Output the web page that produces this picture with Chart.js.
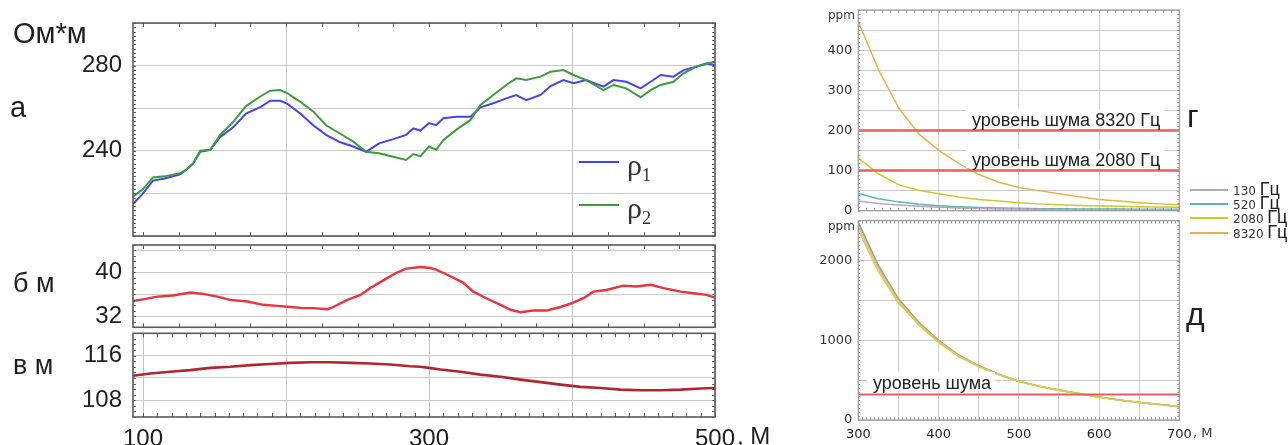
<!DOCTYPE html>
<html>
<head>
<meta charset="utf-8">
<script src="https://cdn.jsdelivr.net/npm/chart.js@4.4.1/dist/chart.umd.min.js"></script>
<style>
  body { margin: 0; background: #fff; width: 1288px; height: 445px; overflow: hidden; position: relative;
         font-family: "Liberation Sans", Arial, sans-serif; color: #1e1e1e; }
  canvas { position: absolute; }
  .t { position: absolute; white-space: nowrap; line-height: 1; }
  .ln { position: absolute; height: 2px; }
  .rho { font-family: "Liberation Serif", serif; font-size: 30px; color: #333; }
  .rho sub { font-size: 18px; vertical-align: -6px; }
  .lg { font-family: "DejaVu Sans", sans-serif; font-size: 12px; color: #333; }
  .lg b { font-family: "Liberation Sans", Arial, sans-serif; font-weight: normal; font-size: 18px; color: #222; }
  .noise { background: #fff; font-size: 18px; line-height: 15px; color: #222; padding: 4px 4px 0 6px; }
</style>
</head>
<body>
<canvas id="cA" style="left:0px;top:0px" width="740" height="245"></canvas>
<canvas id="cB" style="left:0px;top:240px" width="740" height="92"></canvas>
<canvas id="cC" style="left:0px;top:330px" width="740" height="115"></canvas>
<canvas id="cG" style="left:780px;top:0px" width="508" height="215"></canvas>
<canvas id="cD" style="left:780px;top:215px" width="508" height="230"></canvas>

<div class="t" style="left:13px;top:19px;font-size:29px">Ом*м</div>
<div class="t" style="left:10px;top:93px;font-size:29px">а</div>
<div class="t" style="left:13px;top:270px;font-size:27px">б м</div>
<div class="t" style="left:13px;top:352px;font-size:27px">в м</div>
<div class="t" style="left:737px;top:424px;font-size:24px">, М</div>

<div class="ln" style="left:579px;top:161px;width:40px;background:#4444ee"></div>
<div class="t rho" style="left:627px;top:150px">ρ<sub>1</sub></div>
<div class="ln" style="left:579px;top:204px;width:40px;background:#3d9a3d"></div>
<div class="t rho" style="left:627px;top:193px">ρ<sub>2</sub></div>

<div class="t noise" style="left:966px;top:109px">уровень шума 8320 Гц</div>
<div class="t noise" style="left:966px;top:149px">уровень шума 2080 Гц</div>
<div class="t noise" style="left:867px;top:372px">уровень шума</div>
<div class="t" style="left:1187px;top:100px;font-size:32px">г</div>
<div class="t" style="left:1186px;top:298px;font-size:32px">д</div>
<div class="t lg" style="left:828px;top:9px">ppm</div>
<div class="t lg" style="left:828px;top:220px">ppm</div>
<div class="t lg" style="left:1193px;top:426px;font-size:13px">, М</div>

<div class="ln" style="left:1190px;top:189px;width:38px;background:#b4a6bc"></div>
<div class="t lg" style="left:1233px;top:180px">130 <b>Гц</b></div>
<div class="ln" style="left:1190px;top:203px;width:38px;background:#5fb3ad"></div>
<div class="t lg" style="left:1233px;top:194px">520 <b>Гц</b></div>
<div class="ln" style="left:1190px;top:217px;width:38px;background:#c9c92c"></div>
<div class="t lg" style="left:1233px;top:208px">2080 <b>Гц</b></div>
<div class="ln" style="left:1190px;top:232px;width:38px;background:#eab04a"></div>
<div class="t lg" style="left:1233px;top:223px">8320 <b>Гц</b></div>

<script>
// --- panel а: apparent resistivity along the profile
const distRho = [93, 100, 107, 115, 126, 130, 135, 140, 147, 154, 163, 172, 182, 189, 196, 201, 210, 219, 228, 238,
  247, 256, 265, 275, 284, 289, 294, 300, 305, 310, 319, 329, 336, 345, 354, 361, 368, 378, 385, 394,
  401, 410, 422, 429, 438, 448, 455, 462, 471, 478, 487, 494, 500];
const rho1 = [215, 220, 226, 227, 229, 231, 234, 239.5, 240.5, 246.5, 251, 257.5, 260.5, 263.5, 263.5, 262, 257.5, 252, 247.5, 244,
  242, 239.5, 243.5, 245.5, 247.5, 250.5, 249.5, 253, 252, 255.3, 256, 256, 260.4, 262.3, 264.6, 266.2, 263.8, 266.2, 270.4, 273.2,
  271.7, 273.2, 270.1, 273.2, 272.4, 269.3, 272.4, 275.6, 274.8, 277.9, 279.5, 281, 280.3];
const rho2 = [218.5, 222, 227.5, 228, 229.5, 231, 234, 240, 240.5, 247.5, 253.5, 261, 265.5, 268.2, 268.5, 267, 263, 258.5, 252, 248,
  244.3, 239.5, 238.8, 237.2, 235.7, 238.5, 237.5, 242, 240.5, 245, 249.8, 254.5, 261.5, 266.2, 270.9, 274, 273.2, 274.8, 277.1, 277.9,
  275.6, 273.2, 268.5, 270.9, 269.3, 265.1, 268.5, 270.9, 272.4, 276.4, 279.5, 281, 281.7];

// --- panel б: depth, m
const distDepth = [91, 100, 110, 121, 133, 142, 152, 161, 173, 184, 194, 203, 212, 219, 229, 233, 243, 252, 259, 268,
  277, 284, 294, 301, 305, 315, 324, 331, 340, 350, 357, 364, 373, 382, 392, 400, 408, 415, 424, 436,
  445, 455, 464, 476, 485, 494, 500];
const depth = [34.7, 35.1, 35.6, 35.8, 36.35, 36.1, 35.6, 35.0, 34.7, 34.1, 33.9, 33.7, 33.5, 33.5, 33.3, 33.7, 35.0, 35.9, 37.15, 38.55,
  39.9, 40.7, 41.0, 40.8, 40.5, 39.3, 38.1, 36.5, 35.3, 34.1, 33.2, 32.75, 33.05, 33.05, 33.7, 34.4, 35.3, 36.5, 36.8, 37.6,
  37.45, 37.75, 37.15, 36.5, 36.2, 35.9, 35.4];

// --- panel в: elevation, m
const distElev = [93, 105, 119, 133, 147, 161, 175, 189, 203, 217, 231, 245, 259, 273, 287, 294, 300, 308, 322, 336,
  350, 364, 378, 392, 406, 420, 434, 448, 462, 476, 490, 500];
const elev = [112.4, 112.8, 113.1, 113.4, 113.8, 114.0, 114.3, 114.5, 114.7, 114.8, 114.8, 114.7, 114.6, 114.4, 114.1, 114.0, 113.8, 113.5, 113.1, 112.6,
  112.2, 111.7, 111.25, 110.8, 110.4, 110.2, 109.9, 109.8, 109.8, 109.9, 110.1, 110.2];

// --- panels г, д: signal vs offset
const distFreq = [300, 325, 350, 375, 400, 425, 450, 475, 500, 525, 550, 575, 600, 625, 650, 675, 700];
const g130 = [24, 18, 14, 11, 8.5, 7, 5.5, 4.5, 4, 3.5, 3, 2.5, 2.2, 2, 1.8, 1.6, 1.5];
const g520 = [43, 30, 22, 16, 12.5, 10, 8, 7, 6, 5, 4.8, 4.5, 4, 4, 3.8, 3.6, 3.5];
const g2080 = [131, 92, 65, 51, 42, 34, 28, 24, 20, 17, 15, 13, 12, 11, 10, 9, 8.5];
const g8320 = [471, 352, 257, 192, 151, 118, 90, 71, 58, 50, 42, 35, 28, 24, 20, 17, 15];
const d130 = [2480, 1940, 1520, 1230, 1000, 815, 680, 575, 487, 425, 375, 333, 288, 252, 222, 196, 168];
const d520 = [2470, 1932, 1515, 1226, 997, 812, 678, 574, 486, 424, 374, 332, 287, 251, 221, 195, 167];
const d2080 = [2380, 1860, 1470, 1195, 970, 795, 667, 568, 483, 422, 373, 331, 286, 250, 220, 195, 166];
const d8320 = [2430, 1900, 1495, 1212, 985, 805, 673, 571, 485, 423, 374, 332, 286, 250, 221, 195, 167];
const noiseG = [200, 100];   // 8320 Hz, 2080 Hz
const noiseD = 320;

const pts = (xs, ys) => xs.map((x, i) => ({ x, y: ys[i] }));
const flat = (y) => [{ x: 300, y }, { x: 700, y }];

// border + small inward ticks, placed through the chart scales
const framePlugin = {
  id: "frame",
  afterDraw(chart) {
    const o = chart.options.plugins.frame;
    const { ctx, chartArea: a, scales } = chart;
    const xs = scales.x, ys = scales.y;
    ctx.save();
    ctx.strokeStyle = o.color;
    ctx.lineWidth = 1;
    ctx.beginPath();
    for (let v = Math.ceil(xs.min / o.xStep) * o.xStep; v <= xs.max + 1e-6; v += o.xStep) {
      const p = Math.round(xs.getPixelForValue(v)) + 0.5;
      ctx.moveTo(p, a.bottom); ctx.lineTo(p, a.bottom - o.xLen);
      ctx.moveTo(p, a.top); ctx.lineTo(p, a.top + o.xLen);
    }
    for (let v = Math.ceil(ys.min / o.yStep) * o.yStep; v <= ys.max + 1e-6; v += o.yStep) {
      const p = Math.round(ys.getPixelForValue(v)) + 0.5;
      ctx.moveTo(a.left, p); ctx.lineTo(a.left + o.yLen, p);
      ctx.moveTo(a.right, p); ctx.lineTo(a.right - o.yLen, p);
    }
    ctx.stroke();
    ctx.lineWidth = o.width;
    ctx.strokeRect(a.left, a.top, a.right - a.left, a.bottom - a.top);
    ctx.restore();
  },
};

const leftFont = { family: "'Liberation Sans', Arial, sans-serif", size: 24 };
const rightFont = { family: "'DejaVu Sans', sans-serif", size: 13 };

function lineSet(data, color, width) {
  return { data, borderColor: color, borderWidth: width, pointRadius: 0, tension: 0, fill: false };
}

// keep the plot box exactly where the layout padding puts it
function noMargins(s) {
  s.paddingTop = 0; s.paddingBottom = 0; s.paddingLeft = 0; s.paddingRight = 0;
}

// ticks on round multiples of the step, axis keeps its own min/max
function roundTicks(ax) {
  return (s) => {
    s.min = ax.min;
    s.max = ax.max;
    const t = [];
    for (let v = Math.ceil(ax.min / ax.step - 1e-9) * ax.step; v <= ax.max + 1e-9; v += ax.step) t.push({ value: v });
    s.ticks = t;
  };
}

function makeChart(id, cfg) {
  return new Chart(document.getElementById(id), {
    type: "line",
    data: { datasets: cfg.datasets },
    plugins: [framePlugin],
    options: {
      responsive: false,
      animation: false,
      devicePixelRatio: 1,
      layout: { padding: cfg.padding },
      plugins: { legend: { display: false }, tooltip: { enabled: false }, frame: cfg.frame },
      scales: {
        x: {
          type: "linear",
          min: cfg.x.min, max: cfg.x.max,
          border: { display: false },
          grid: { drawTicks: false, color: cfg.x.gridColor, lineWidth: 1 },
          ticks: {
            display: !!cfg.x.labels, autoSkip: false, maxRotation: 0,
            padding: cfg.x.pad || 0, font: cfg.x.font, color: "#1e1e1e",
            callback: cfg.x.labels || (() => ""),
          },
          afterBuildTicks: roundTicks(cfg.x),
          afterFit: (s) => { s.height = cfg.x.height; noMargins(s); },
        },
        y: {
          type: "linear",
          min: cfg.y.min, max: cfg.y.max,
          border: { display: false },
          grid: { drawTicks: false, color: "#c9c9c9", lineWidth: 1 },
          ticks: {
            autoSkip: false,
            padding: cfg.y.pad, font: cfg.y.font, color: cfg.y.color || "#1e1e1e",
            callback: cfg.y.labels,
          },
          afterBuildTicks: roundTicks(cfg.y),
          afterFit: (s) => { s.width = cfg.y.width; noMargins(s); },
        },
      },
    },
  });
}

const every200 = (c) => (c.tick && c.tick.value % 200 === 0 ? "#c4c4c4" : "rgba(0,0,0,0)");
const leftFrame = { color: "#5a5a5a", width: 1.6, xStep: 25, xLen: 4 };

makeChart("cA", {
  datasets: [lineSet(pts(distRho, rho2), "#3d9a3d", 2), lineSet(pts(distRho, rho1), "#4444ee", 2)],
  padding: { left: 0, right: 25, top: 23, bottom: 9 },
  frame: { ...leftFrame, yStep: 2, yLen: 3 },
  x: { min: 93, max: 500, step: 100, gridColor: every200, height: 0 },
  y: { min: 200, max: 300, step: 20, width: 133, pad: 11, font: leftFont,
       labels: (v) => (v === 240 || v === 280 ? String(v) : "") },
});

makeChart("cB", {
  datasets: [lineSet(pts(distDepth, depth), "#e8343e", 2.4)],
  padding: { left: 0, right: 25, top: 5, bottom: 4.7 },
  frame: { ...leftFrame, yStep: 1, yLen: 3 },
  x: { min: 93, max: 500, step: 100, gridColor: every200, height: 0 },
  y: { min: 30, max: 45, step: 4, width: 133, pad: 11, font: leftFont,
       labels: (v) => (v === 32 || v === 40 ? String(v) : "") },
});

makeChart("cC", {
  datasets: [lineSet(pts(distElev, elev), "#b0262f", 2.6)],
  padding: { left: 0, right: 25, top: 3.3, bottom: 0 },
  frame: { ...leftFrame, xStep: 10, xLen: 4, yStep: 1, yLen: 3 },
  x: { min: 93, max: 500, step: 100, gridColor: "#c4c4c4", height: 28, pad: 8, font: leftFont,
       labels: (v) => (v === 100 || v === 300 || v === 500 ? String(v) : "") },
  y: { min: 105, max: 120, step: 4, width: 133, pad: 11, font: leftFont,
       labels: (v) => (v === 108 || v === 116 ? String(v) : "") },
});

const rightFrame = { color: "#9a9a9a", width: 1.2, xLen: 3, yLen: 2 };

makeChart("cG", {
  datasets: [
    lineSet(flat(noiseG[0]), "#ea5a62", 2.5),
    lineSet(flat(noiseG[1]), "#ea5a62", 2.5),
    lineSet(pts(distFreq, g130), "#b4a6bc", 1.5),
    lineSet(pts(distFreq, g520), "#5fb3ad", 1.5),
    lineSet(pts(distFreq, g2080), "#c9c92c", 1.5),
    lineSet(pts(distFreq, g8320), "#eab04a", 1.5),
  ],
  padding: { left: 0, right: 108.7, top: 10, bottom: 4.3 },
  frame: { ...rightFrame, xStep: 10, yStep: 10 },
  x: { min: 300, max: 700, step: 100, height: 0,
       gridColor: (c) => (c.tick && c.tick.value > 300 && c.tick.value < 700 ? "#d0d0d0" : "rgba(0,0,0,0)") },
  y: { min: 0, max: 500, step: 50, width: 78.3, pad: 6, font: rightFont, color: "#333",
       labels: (v) => (v % 100 === 0 && v < 500 ? String(v) : "") },
});

makeChart("cD", {
  datasets: [
    lineSet(flat(noiseD), "#ea5a62", 2),
    lineSet(pts(distFreq, d2080), "#d8d040", 1.5),
    lineSet(pts(distFreq, d8320), "#eab870", 1.5),
    lineSet(pts(distFreq, d520), "#8fa8a8", 1.5),
    lineSet(pts(distFreq, d130), "#a699ad", 1.5),
  ],
  padding: { left: 0, right: 108.7, top: 5.7, bottom: 0 },
  frame: { ...rightFrame, xStep: 5, yStep: 50 },
  x: { min: 300, max: 700, step: 50, height: 25, pad: 7, font: rightFont, gridColor: "#d0d0d0",
       labels: (v) => (v % 100 === 0 ? String(v) : "") },
  y: { min: 0, max: 2500, step: 500, width: 78.3, pad: 6, font: rightFont, color: "#333",
       labels: (v) => (v % 1000 === 0 ? String(v) : "") },
});
</script>
</body>
</html>
